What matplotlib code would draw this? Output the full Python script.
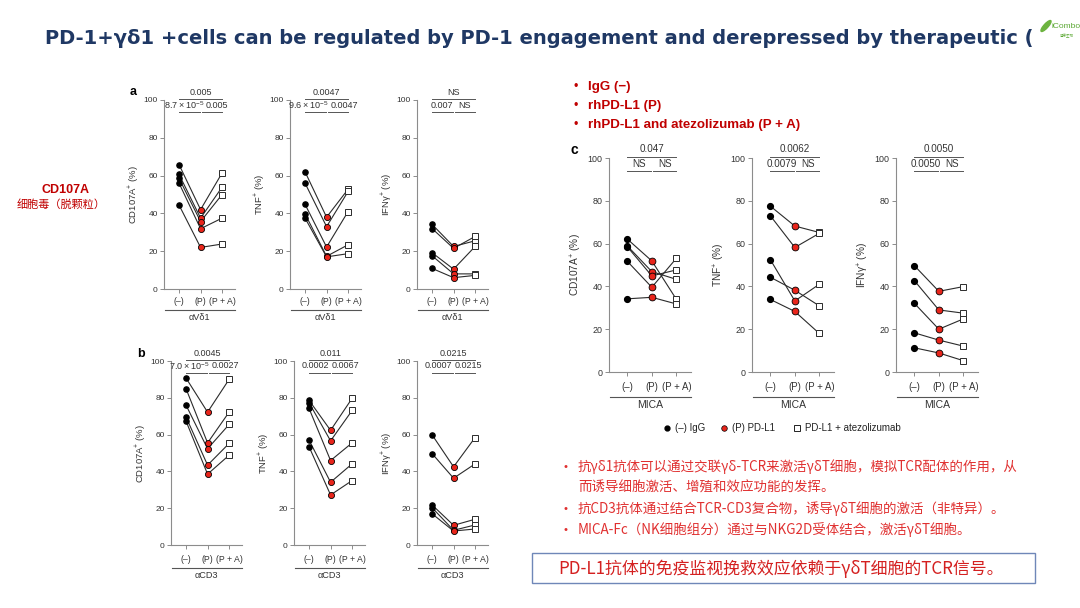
import matplotlib
matplotlib.use("Agg")
import matplotlib.pyplot as plt
from matplotlib.lines import Line2D
from matplotlib.patches import Rectangle, Ellipse

plt.rcParams['font.family'] = ['Liberation Sans', 'DejaVu Sans']
plt.rcParams['mathtext.fontset'] = 'custom'
plt.rcParams['mathtext.rm'] = 'Liberation Sans'
plt.rcParams['mathtext.it'] = 'Liberation Sans:italic'
CJK = ['Noto Sans CJK SC', 'DejaVu Sans']

W, H = 1080, 608

# ---- data: [(-), (P), (P + A)] per subject ----
conditions = ['(–)', '(P)', '(P + A)']
ylabels = [r'CD107A$^{+}$ (%)', r'TNF$^{+}$ (%)', r'IFNγ$^{+}$ (%)']

# panel a : αVδ1
a_cd107 = [[65.8, 60.6, 58.5, 56.0, 44.4], [42.0, 37.5, 35.7, 31.9, 22.0], [61.4, 53.9, 50.0, 37.5, 23.8]]
a_tnf = [[62.0, 56.0, 44.8, 39.7, 37.5], [38.0, 33.0, 22.2, 17.3, 17.0], [52.8, 51.6, 41.0, 23.4, 18.7]]
a_ifng = [[34.2, 32.0, 19.2, 17.6, 10.9], [22.5, 21.5, 10.5, 8.0, 6.0], [25.5, 27.8, 22.5, 8.0, 7.2]]
a_stats = [('0.005', '8.7\u2009×\u200910$^{-5}$', '0.005'), ('0.0047', '9.6\u2009×\u200910$^{-5}$', '0.0047'),
           ('NS', '0.007', 'NS')]

# panel b : αCD3
b_cd107 = [[90.7, 84.9, 76.0, 69.5, 67.3], [72.2, 55.5, 52.3, 43.4, 38.5], [90.0, 72.2, 65.5, 55.2, 48.8]]
b_tnf = [[78.6, 77.3, 74.2, 57.0, 53.4], [62.3, 56.6, 45.9, 34.1, 27.2], [79.7, 73.1, 55.5, 44.1, 35.0]]
b_ifng = [[59.9, 49.7, 21.8, 20.3, 17.0], [42.5, 36.3, 10.7, 8.0, 7.6], [58.4, 44.1, 14.0, 10.9, 8.7]]
b_stats = [('0.0045', '7.0\u2009×\u200910$^{-5}$', '0.0027'), ('0.011', '0.0002', '0.0067'),
           ('0.0215', '0.0007', '0.0215')]

# panel c : MICA
c_cd107 = [[62.1, 58.9, 58.5, 51.7, 34.2], [51.9, 46.9, 44.9, 39.6, 34.9], [34.0, 43.3, 47.7, 53.1, 31.8]]
c_tnf = [[77.5, 73.0, 52.5, 44.3, 33.9], [68.2, 58.2, 33.2, 38.2, 28.3], [65.2, 64.8, 41.0, 30.9, 18.0]]
c_ifng = [[49.7, 42.7, 32.1, 18.3, 11.3], [37.7, 29.0, 20.0, 14.9, 8.9], [39.9, 27.5, 24.8, 12.1, 5.3]]
c_stats = [('0.047', 'NS', 'NS'), ('0.0062', '0.0079', 'NS'), ('0.0050', '0.0050', 'NS')]

title = 'PD-1+γδ1 +cells can be regulated by PD-1 engagement and derepressed by therapeutic ('
treatments = ['IgG (−)', 'rhPD-L1 (P)', 'rhPD-L1 and atezolizumab (P + A)']
legend_labels = ['(–) IgG', '(P) PD-L1', 'PD-L1 + atezolizumab']
notes = ['抗γδ1抗体可以通过交联γδ-TCR来激活γδT细胞，模拟TCR配体的作用，从',
         '而诱导细胞激活、增殖和效应功能的发挥。',
         '抗CD3抗体通过结合TCR-CD3复合物，诱导γδT细胞的激活（非特异）。',
         'MICA-Fc（NK细胞组分）通过与NKG2D受体结合，激活γδT细胞。']
conclusion = 'PD-L1抗体的免疫监视挽救效应依赖于γδT细胞的TCR信号。'

RED = '#e8251b'
TXTRED = '#c00000'
LINE = '#2b2b2b'
SPINE = '#8c8c8c'
GREY = '#333333'

fig = plt.figure(figsize=(W / 100, H / 100), dpi=100)
renderer = fig.canvas.get_renderer()


def px_ax(left, top, width, height):
    return fig.add_axes([left / W, 1 - (top + height) / H, width / W, height / H])


def fig_line(x1, x2, y, **kw):
    fig.add_artist(Line2D([x1 / W, x2 / W], [1 - y / H, 1 - y / H], transform=fig.transFigure, **kw))


def fig_text(x, y, s, **kw):
    return fig.text(x / W, 1 - y / H, s, **kw)


def draw_panel(lefts, width, top, bottom, datasets, stats, group, letter, letter_xy,
               sz, ms, tick_y, line_y, lab_y, xlim, lab_pad):
    scale = width / (xlim[1] - xlim[0])
    for i, (left, vals, st) in enumerate(zip(lefts, datasets, stats)):
        ax = px_ax(left, top, width, bottom - top)
        neg, p, pa = vals
        for v0, v1, v2 in zip(neg, p, pa):
            ax.plot([0, 1, 2], [v0, v1, v2], color=LINE, lw=0.8, zorder=2)
        ax.plot([0] * len(neg), neg, 'o', color='black', ms=ms * 0.85, zorder=3, clip_on=False)
        ax.plot([1] * len(p), p, 'o', mfc=RED, mec='black', mew=0.6, ms=ms, zorder=3, clip_on=False)
        ax.plot([2] * len(pa), pa, 's', mfc='white', mec=LINE, mew=0.7, ms=ms * 0.95, zorder=3, clip_on=False)
        ax.set_xlim(*xlim)
        ax.set_ylim(0, 100)
        ax.set_yticks(range(0, 101, 20))
        ax.set_xticks([0, 1, 2])
        ax.set_xticklabels([])
        for s in ['top', 'right']:
            ax.spines[s].set_visible(False)
        for s in ['left', 'bottom']:
            ax.spines[s].set_color(SPINE)
            ax.spines[s].set_linewidth(0.8)
        ax.tick_params(colors=SPINE, length=3, width=0.7, labelsize=sz['tick'], labelcolor=GREY, pad=1.5)
        ax.set_ylabel(ylabels[i], fontsize=sz['ylab'], color=GREY, labelpad=lab_pad)
        # significance brackets
        texts = []
        for x1, x2, y, ty, s in [(0, 2, 100.5, 104.2, st[0]), (0, 0.95, 93.7, 97.3, st[1]),
                                 (1.05, 2, 93.7, 97.3, st[2])]:
            ax.plot([x1, x2], [y, y], color='#555555', lw=0.7, clip_on=False)
            texts.append(ax.text((x1 + x2) / 2, ty, s, ha='center', va='center', fontsize=sz['stat'],
                                 color=GREY, clip_on=False))
        # push the two lower labels apart when they collide
        bl = texts[1].get_window_extent(renderer)
        br = texts[2].get_window_extent(renderer)
        gap = br.x0 - bl.x1
        if gap < 2:
            d = (2 - gap) / 2 / scale
            texts[1].set_x(texts[1].get_position()[0] - d)
            texts[2].set_x(texts[2].get_position()[0] + d)
        # condition labels and group line
        for k, c in enumerate(conditions):
            fig_text(left + (k - xlim[0]) * scale, tick_y, c, ha='center', va='center',
                     fontsize=sz['cond'], color=GREY)
        fig_line(left + 1, left + width, line_y, color='#555555', lw=0.8)
        fig_text(left + width / 2, lab_y, group, ha='center', va='center', fontsize=sz['group'], color=GREY)
    fig_text(letter_xy[0], letter_xy[1], letter, ha='center', va='center', fontsize=sz['letter'],
             fontweight='bold', color='black')


small = {'tick': 6, 'ylab': 6.8, 'stat': 6.5, 'cond': 6.3, 'group': 6.6, 'letter': 9}
large = {'tick': 6.4, 'ylab': 7.3, 'stat': 7.1, 'cond': 6.9, 'group': 7.5, 'letter': 10}

draw_panel([164, 290, 417], 71, 100, 289, [a_cd107, a_tnf, a_ifng], a_stats, 'αVδ1', 'a', (133, 92),
           small, 4.4, 302, 310, 318, (-0.7, 2.6), 2)
draw_panel([171, 294, 417], 71, 361, 545, [b_cd107, b_tnf, b_ifng], b_stats, 'αCD3', 'b', (141, 354),
           small, 4.4, 560, 568, 576, (-0.7, 2.6), 2)
draw_panel([609, 752, 896], 82, 158, 372, [c_cd107, c_tnf, c_ifng], c_stats, 'MICA', 'c', (574, 150),
           large, 4.9, 387, 397, 405, (-0.75, 2.6), 3)

# legend of panel c
fig.add_artist(Line2D([667 / W], [1 - 428 / H], marker='o', color='black', ms=3.5, transform=fig.transFigure))
fig_text(675, 428, legend_labels[0], va='center', fontsize=7, color='#222222')
fig.add_artist(Line2D([724 / W], [1 - 428 / H], marker='o', mfc=RED, mec='black', mew=0.5, ms=4,
                      transform=fig.transFigure))
fig_text(732, 428, legend_labels[1], va='center', fontsize=7, color='#222222')
fig.add_artist(Line2D([797 / W], [1 - 428 / H], marker='s', mfc='white', mec='#222222', mew=0.7, ms=4,
                      transform=fig.transFigure))
fig_text(805, 428, legend_labels[2], va='center', fontsize=7, color='#222222')

# title (cut short at the logo as on the slide)
fig_text(45, 38, title, ha='left', va='center', fontsize=14.0, fontweight='bold', color='#1f3864',
         family=['DejaVu Sans'])

# logo
fig.add_artist(Ellipse((1046 / W, 1 - 26 / H), 5 / W, 12 / H, angle=-25, color='#6cb33f',
                       transform=fig.transFigure))
fig_text(1052, 26, 'iCombo', va='center', fontsize=6, color='#5aa832')
fig_text(1060, 36, '迪康生物', va='center', fontsize=2.5, color='#5aa832', family=CJK)

# left annotation
fig_text(65, 190, 'CD107A', ha='center', va='center', fontsize=9, fontweight='bold', color=TXTRED)
fig_text(61, 205, '细胞毒（脱颗粒）', ha='center', va='center', fontsize=8, color=TXTRED, family=CJK)

# treatment bullets
for k, t in enumerate(treatments):
    y = 87 + 19 * k
    fig_text(576, y, '•', ha='center', va='center', fontsize=9, color=TXTRED)
    fig_text(588, y, t, ha='left', va='center', fontsize=9.6, fontweight='bold', color=TXTRED)

# mechanism notes
note_y = [467, 488, 509, 530]
for k, (t, y) in enumerate(zip(notes, note_y)):
    if k != 1:
        fig_text(566, y, '•', ha='center', va='center', fontsize=8, color='#e03030')
    fig_text(578, y, t, ha='left', va='center', fontsize=9.7, color='#e03030', family=CJK)

# conclusion box
fig.add_artist(Rectangle((532 / W, 1 - 583 / H), (1035 - 532) / W, 30 / H, fill=False,
                         edgecolor='#6f87b8', lw=1.0, transform=fig.transFigure))
fig_text(781, 569, conclusion, ha='center', va='center', fontsize=12.2, color='#d42020', family=CJK)

fig.savefig('out.png', dpi=100)
plt.close(fig)
